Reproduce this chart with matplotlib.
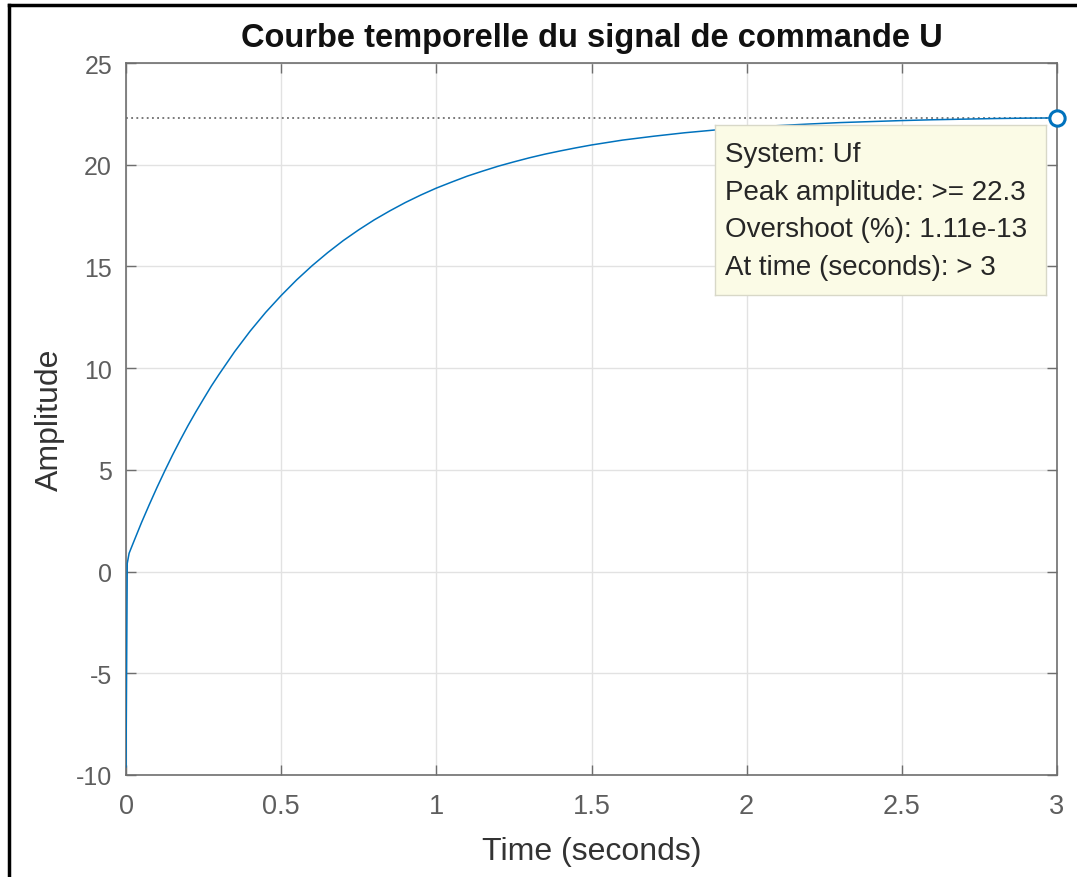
import matplotlib
matplotlib.use("Agg")
import matplotlib.pyplot as plt
from matplotlib.lines import Line2D

plt.rcParams['font.family'] = ['Liberation Sans', 'DejaVu Sans']
plt.rcParams['axes.unicode_minus'] = False

# Step response of the control signal Uf (time in seconds, amplitude)
time_s = [0.0, 0.004, 0.01, 0.025, 0.05, 0.075, 0.1, 0.125, 0.15, 0.175, 0.2,
          0.225, 0.25, 0.275, 0.3, 0.35, 0.4, 0.45, 0.5, 0.55, 0.6, 0.65, 0.7,
          0.75, 0.8, 0.85, 0.9, 0.95, 1.0, 1.05, 1.1, 1.15, 1.2, 1.25, 1.3,
          1.35, 1.4, 1.45, 1.5, 1.6, 1.7, 1.8, 1.9, 2.0, 2.1, 2.2, 2.3, 2.4,
          2.5, 2.6, 2.7, 2.8, 2.9, 3.0]
amplitude = [-9.6, 0.4, 0.9, 1.47, 2.41, 3.29, 4.14, 4.95, 5.73, 6.47, 7.18,
             7.85, 8.49, 9.12, 9.70, 10.81, 11.82, 12.74, 13.57, 14.34, 15.04,
             15.68, 16.27, 16.80, 17.29, 17.73, 18.14, 18.51, 18.85, 19.15,
             19.44, 19.69, 19.93, 20.14, 20.34, 20.52, 20.68, 20.83, 20.97,
             21.21, 21.40, 21.57, 21.71, 21.82, 21.92, 22.0, 22.07, 22.12,
             22.17, 22.21, 22.24, 22.27, 22.29, 22.3]

peak_value = 22.3
peak_time = 3.0
info_lines = ["System: Uf",
              "Peak amplitude: >= 22.3",
              "Overshoot (%): 1.11e-13",
              "At time (seconds): > 3"]

x_ticks = [0, 0.5, 1, 1.5, 2, 2.5, 3]
x_tick_labels = ["0", "0.5", "1", "1.5", "2", "2.5", "3"]
y_ticks = [-10, -5, 0, 5, 10, 15, 20, 25]

W, H = 1077, 878
fig = plt.figure(figsize=(W / 100, H / 100), dpi=100)
fig.patch.set_facecolor('white')

ax = fig.add_axes([126 / W, 1 - 776 / H, (1057 - 126) / W, (776 - 64) / H])

axis_grey = '#6e6e6e'
label_grey = '#5e5e5e'

ax.plot(time_s, amplitude, color='#0072BD', lw=1.1, zorder=3)
ax.axhline(peak_value, color='#555555', lw=1.1, ls=(0, (1.2, 2.2)), zorder=2)
ax.plot([peak_time], [peak_value], marker='o', ms=11, mfc='white',
        mec='#0072BD', mew=2.2, clip_on=False, zorder=6)

ax.set_xlim(0, 3)
ax.set_ylim(-10, 25)
ax.set_xticks(x_ticks)
ax.set_xticklabels(x_tick_labels)
ax.set_yticks(y_ticks)

ax.grid(True, color='#e2e2e2', lw=1.0)
ax.set_axisbelow(True)
for s in ax.spines.values():
    s.set_color(axis_grey)
    s.set_linewidth(1.2)
ax.tick_params(direction='in', length=7, width=1, color=axis_grey,
               labelcolor=label_grey, top=True, right=True)
ax.tick_params(axis='x', labelsize=19.5, pad=13)
ax.tick_params(axis='y', labelsize=18, pad=10)

ax.set_title("Courbe temporelle du signal de commande U", fontsize=23.5,
             fontweight='bold', color='#111111', pad=12)
ax.set_xlabel("Time (seconds)", fontsize=23, color='#333333', labelpad=12)
ax.set_ylabel("Amplitude", fontsize=23, color='#333333', labelpad=8)

# Data tip box
box_ax = fig.add_axes([715 / W, 1 - 296 / H, (1046 - 715) / W, (296 - 126) / H])
box_ax.set_xlim(0, 1)
box_ax.set_ylim(0, 1)
box_ax.set_xticks([])
box_ax.set_yticks([])
box_ax.set_facecolor('#fbfbe6')
for s in box_ax.spines.values():
    s.set_color('#d8d8c8')
    s.set_linewidth(1)
for i, line in enumerate(info_lines):
    box_ax.text(0.03, 0.83 - i * 0.222, line, fontsize=20, color='#262626',
                va='center', ha='left')

# Outer frame (left and top edges)
fig.add_artist(Line2D([9 / W, 9 / W], [0, 1 - 6 / H], color='black', lw=2.5,
                      transform=fig.transFigure))
fig.add_artist(Line2D([9 / W, 1], [1 - 6 / H, 1 - 6 / H], color='black', lw=2.5,
                      transform=fig.transFigure))

fig.savefig("out.png", dpi=100)
